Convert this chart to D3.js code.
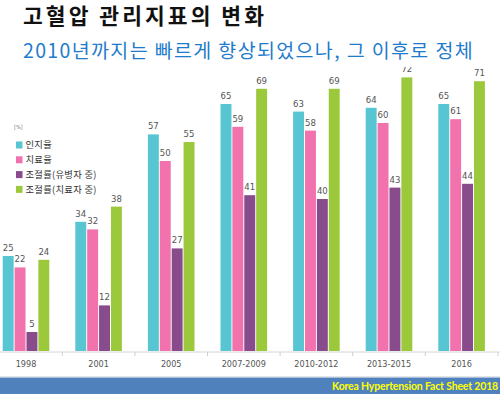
<!DOCTYPE html>
<html>
<head>
<meta charset="utf-8">
<script src="https://cdn.jsdelivr.net/npm/d3@7"></script>
<style>
	html, body { margin: 0; padding: 0; background: #fff; }
	svg { display: block; }
</style>
</head>
<body>
<div id="wrapper"></div>
<script>
// data
const periods = ['1998', '2001', '2005', '2007-2009', '2010-2012', '2013-2015', '2016'];
const seriesNames = ['인지율', '치료율', '조절률(유병자 중)', '조절률(치료자 중)'];
const awareness = [25, 34, 57, 65, 63, 64, 65];
const treatment = [22, 32, 50, 59, 58, 60, 61];
const controlAll = [5, 12, 27, 41, 40, 43, 44];
const controlTreated = [24, 38, 55, 69, 69, 72, 71];
const seriesColors = ['#58c5d2', '#f172ad', '#884b8b', '#9cc93c'];

(() => {
	const width = 500,
		height = 394;
	const svg = d3.select('#wrapper').append('svg')
		.attr('width', width)
		.attr('height', height);

	const values = [awareness, treatment, controlAll, controlTreated];
	const rows = periods.map((p, i) => ({
		period: p,
		vals: values.map((s, k) => ({ key: seriesNames[k], k: k, v: s[i] }))
	}));

	// scales
	const x0 = d3.scaleBand()
		.domain(periods)
		.range([-10.3, 497.9])
		.padding(0);
	const half = x0.bandwidth() / 2;
	const x1 = d3.scaleBand()
		.domain(seriesNames)
		.range([half - 23.3, half + 23.3])
		.paddingInner(0.08);
	const y = d3.scaleLinear()
		.domain([0, 100])
		.range([351, -29]);

	const chart = svg.append('g');

	const group = chart.selectAll('.group')
		.data(rows)
		.enter()
		.append('g')
		.attr('class', 'group')
		.attr('transform', (d) => 'translate(' + x0(d.period) + ',0)');

	group.selectAll('rect')
		.data((d) => d.vals)
		.enter()
		.append('rect')
		.attr('x', (d) => x1(d.key))
		.attr('width', x1.bandwidth())
		.attr('y', (d) => y(d.v))
		.attr('height', (d) => y(0) - y(d.v))
		.style('fill', (d) => seriesColors[d.k]);

	group.selectAll('.val')
		.data((d) => d.vals)
		.enter()
		.append('text')
		.attr('class', 'val')
		.attr('x', (d) => x1(d.key) + x1.bandwidth() / 2)
		.attr('y', (d) => y(d.v) - 5)
		.attr('text-anchor', 'middle')
		.style('font-family', '"DejaVu Sans Condensed", "DejaVu Sans", sans-serif')
		.style('font-size', '9.5px')
		.style('fill', '#555')
		.text((d) => d.v);

	// bottom axis: labels centred, separators on band edges
	const axis = chart.append('g')
		.attr('transform', 'translate(0,' + (y(0) + 1) + ')');
	axis.append('line')
		.attr('x1', 0).attr('x2', width)
		.style('stroke', '#d6d6d6');
	axis.selectAll('.sep')
		.data(periods)
		.enter()
		.append('line')
		.attr('class', 'sep')
		.attr('x1', (d) => x0(d) + x0.step())
		.attr('x2', (d) => x0(d) + x0.step())
		.attr('y1', 0).attr('y2', 4)
		.style('stroke', '#cfcfcf');
	axis.selectAll('.cat')
		.data(periods)
		.enter()
		.append('text')
		.attr('class', 'cat')
		.attr('x', (d) => x0(d) + half)
		.attr('y', 15)
		.attr('text-anchor', 'middle')
		.style('font-family', '"DejaVu Sans Condensed", "DejaVu Sans", sans-serif')
		.style('font-size', '9px')
		.style('fill', '#555')
		.text((d) => d);

	// legend
	const legend = svg.append('g').attr('transform', 'translate(16,0)');
	legend.append('text')
		.attr('x', -2).attr('y', 128.5)
		.style('font-family', '"DejaVu Sans Condensed", sans-serif')
		.style('font-size', '5.5px')
		.style('fill', '#777')
		.text('[%]');
	const item = legend.selectAll('.item')
		.data(seriesNames)
		.enter()
		.append('g')
		.attr('class', 'item')
		.attr('transform', (d, i) => 'translate(0,' + (145 + i * 14.8) + ')');
	item.append('rect')
		.attr('x', 0).attr('y', -3.5)
		.attr('width', 6.5).attr('height', 7)
		.style('fill', (d, i) => seriesColors[i]);
	item.append('text')
		.attr('x', 9.5).attr('y', 3.4)
		.style('font-family', '"Noto Sans CJK KR", sans-serif')
		.style('font-size', '9.3px')
		.style('letter-spacing', '0.3px')
		.style('fill', '#333')
		.text((d) => d);

	// white cover at the top (clips the 72 label like the original)
	svg.append('rect')
		.attr('x', 0).attr('y', 0)
		.attr('width', width).attr('height', 67)
		.style('fill', '#fff');

	// spread a text with letter-spacing so it spans the given width
	const fitText = (sel, target) => {
		const len = sel.node().getComputedTextLength();
		const n = sel.text().length;
		sel.style('letter-spacing', ((target - len) / n) + 'px');
	};

	const title = svg.append('text')
		.attr('x', 23).attr('y', 24)
		.style('font-family', '"Noto Sans CJK KR", sans-serif')
		.style('font-weight', 'bold')
		.style('font-size', '21.5px')
		.style('fill', '#111')
		.text('고혈압 관리지표의 변화');
	fitText(title, 244);

	const subtitle = svg.append('text')
		.attr('x', 23).attr('y', 58)
		.style('font-family', '"Noto Sans CJK KR", sans-serif')
		.style('font-size', '19.5px')
		.style('fill', '#1f7bcb')
		.text('2010년까지는 빠르게 향상되었으나, 그 이후로 정체');
	fitText(subtitle, 451);

	// footer band
	svg.append('line')
		.attr('x1', 0).attr('x2', width)
		.attr('y1', 376.5).attr('y2', 376.5)
		.style('stroke', '#e4e4e4');
	svg.append('rect')
		.attr('x', 0).attr('y', 377.5)
		.attr('width', width).attr('height', height - 377.5)
		.style('fill', '#4f81bd');
	const src = svg.append('text')
		.attr('x', 498).attr('y', 390)
		.attr('text-anchor', 'end')
		.style('font-family', 'Lato, "Open Sans", sans-serif')
		.style('font-weight', 'bold')
		.style('font-size', '10.5px')
		.style('fill', '#ffff00')
		.text('Korea Hypertension Fact Sheet 2018');
	fitText(src, 166);
})();
</script>
</body>
</html>
